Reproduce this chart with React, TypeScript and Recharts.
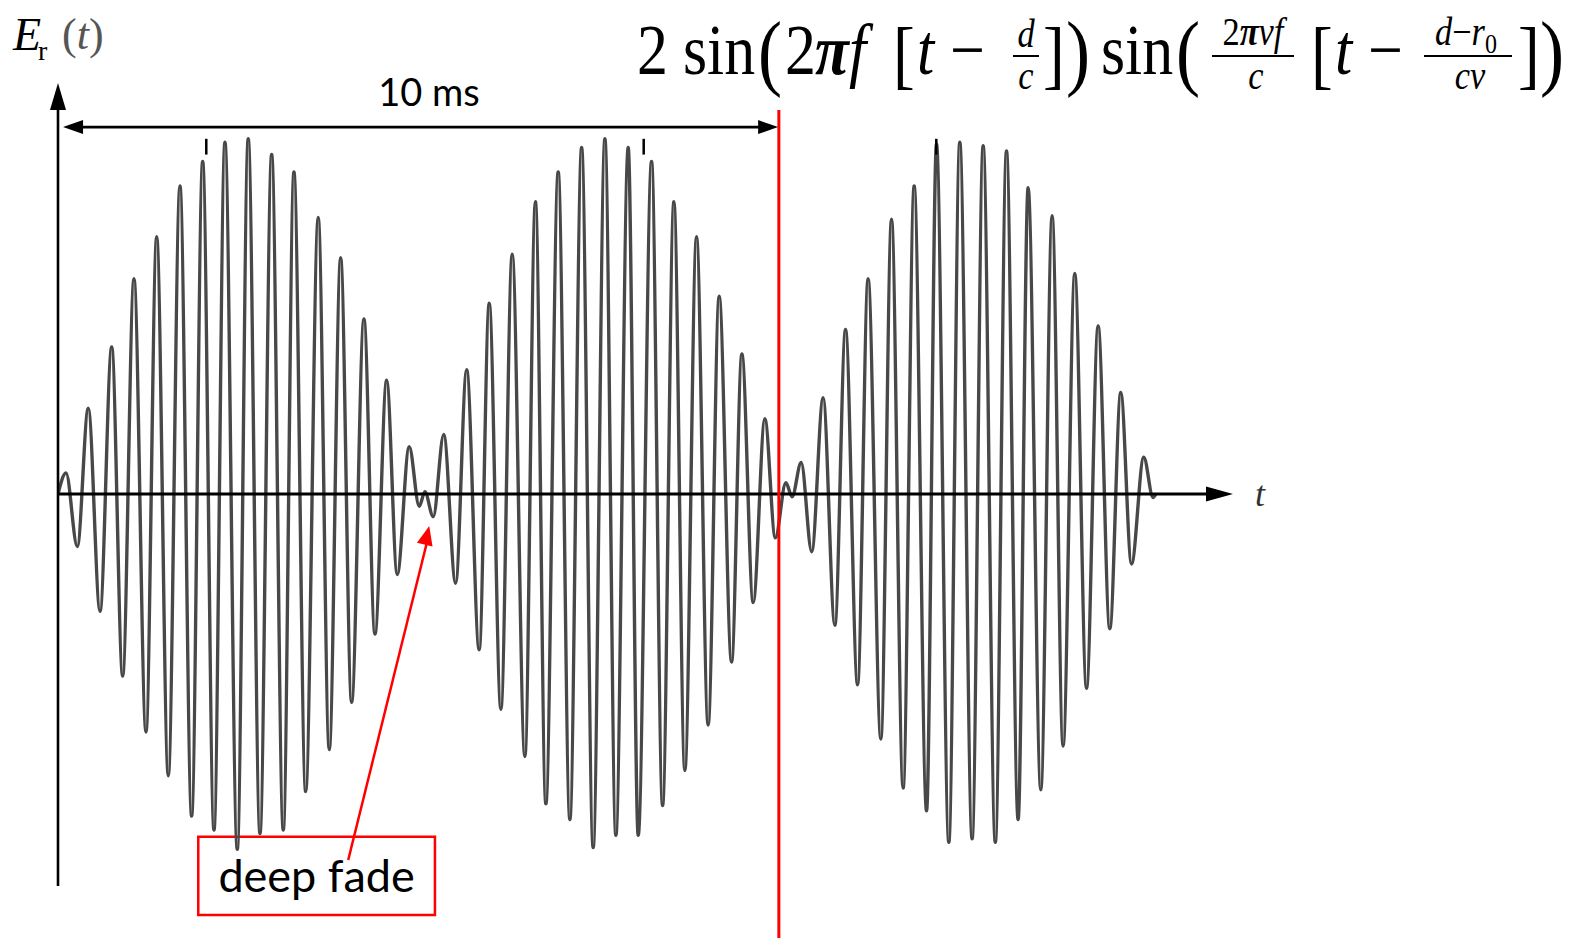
import React from 'react';
import { LineChart, Line, XAxis, YAxis, ReferenceLine, ReferenceDot, ReferenceArea } from 'recharts';

// Received field E_r(t): successive extrema of the beating carrier (time in ms, amplitude)
const waveTimes = [
  0, 0.111, 0.268, 0.42, 0.583, 0.745, 0.897, 1.054, 1.221, 1.369,
  1.53, 1.692, 1.854, 2.007, 2.164, 2.316, 2.487, 2.639, 2.802, 2.964,
  3.125, 3.273, 3.436, 3.61, 3.763, 3.921, 4.073, 4.244, 4.397, 4.559,
  4.706, 4.872, 5.011, 5.09, 5.205, 5.351, 5.516, 5.669, 5.843, 5.982,
  6.144, 6.301, 6.477, 6.623, 6.768, 6.939, 7.101, 7.264, 7.424, 7.587,
  7.739, 7.91, 8.049, 8.234, 8.387, 8.544, 8.696, 8.858, 9.019, 9.172,
  9.344, 9.487, 9.644, 9.806, 9.951, 10.097, 10.184, 10.309, 10.456, 10.614,
  10.777, 10.925, 11.092, 11.238, 11.415, 11.563, 11.724, 11.877, 12.049, 12.187,
  12.358, 12.51, 12.681, 12.834, 13.003, 13.158, 13.319, 13.458, 13.634, 13.791,
  13.943, 14.105, 14.268, 14.429, 14.591, 14.743, 14.892, 15.062, 15.191, 15.229,
];
const waveValues = [
  0, 0.12, -0.3, 0.49, -0.67, 0.84, -1.04, 1.23, -1.36, 1.47,
  -1.61, 1.76, -1.84, 1.9, -1.92, 2.01, -2.03, 2.03, -1.94, 1.94,
  -1.92, 1.84, -1.7, 1.58, -1.46, 1.35, -1.19, 1.0, -0.8, 0.65,
  -0.46, 0.27, -0.07, 0.013, -0.13, 0.34, -0.51, 0.71, -0.89, 1.09,
  -1.23, 1.37, -1.5, 1.67, -1.77, 1.84, -1.86, 1.98, -2.02, 2.03,
  -1.95, 1.98, -1.95, 1.9, -1.78, 1.67, -1.58, 1.47, -1.32, 1.13,
  -0.96, 0.8, -0.62, 0.43, -0.25, 0.065, -0.015, 0.18, -0.33, 0.55,
  -0.75, 0.94, -1.09, 1.23, -1.4, 1.57, -1.68, 1.76, -1.81, 2.0,
  -1.99, 2.01, -1.97, 1.99, -1.99, 1.96, -1.86, 1.75, -1.69, 1.59,
  -1.44, 1.26, -1.11, 0.96, -0.77, 0.58, -0.4, 0.21, -0.02, 0,
];

// Annotation positions in data units (ms, amplitude)
const T_MAX = 16.3;
const Y_TOP = 2.349;
const Y_BOTTOM = -2.537;
const AXIS_Y_END = -2.24;
const periodStart = 0.07;
const periodEnd = 9.99;
const periodLevel = 2.097;
const periodMarkTop = 2.194;
const periodLabel = '10 ms';
const envelopeMarks = [2.057, 8.125, 12.184];
const envelopeMarkRange = [1.94, 2.03];
const fadeBox = { x1: 1.946, x2: 5.229, y1: -2.406, y2: -1.958 };
const fadeArrowFrom = { t: 4.026, v: -2.091 };
const fadeArrowTo = { t: 5.15, v: -0.183 };
const fadeLabel = 'deep fade';

const data = waveTimes.map((t, i) => ({ t, v: waveValues[i] }));

const RED = '#ff0000';

// Filled triangular arrowhead whose tip sits on the reference point
const arrowHead = (dx: number, dy: number, len: number, half: number, color: string) => (props: any) => {
  const { cx, cy } = props;
  if (cx == null || cy == null) return <g />;
  const n = Math.hypot(dx, dy);
  const ux = dx / n;
  const uy = dy / n;
  const bx = cx - ux * len;
  const by = cy - uy * len;
  const px = -uy * half;
  const py = ux * half;
  return (
    <polygon
      points={`${cx},${cy} ${bx + px},${by + py} ${bx - px},${by - py}`}
      fill={color}
    />
  );
};

const serif = '"Liberation Serif", "DejaVu Serif", serif';
const SX = 0.86; // the equation set is slightly condensed

type GlyphProps = {
  x: number;
  y: number;
  size: number;
  italic?: boolean;
  bold?: boolean;
  anchor?: 'start' | 'middle' | 'end';
  children: React.ReactNode;
};

const Glyph = ({ x, y, size, italic, bold, anchor = 'start', children }: GlyphProps) => (
  <text
    transform={`translate(${x},${y}) scale(${SX},1)`}
    fontSize={size}
    fontStyle={italic ? 'italic' : 'normal'}
    fontWeight={bold ? 'bold' : 'normal'}
    textAnchor={anchor}
  >
    {children}
  </text>
);

function Formula() {
  const M = 72;
  const S = 40;
  const base = 74;
  const P = 84;
  const B = 76;
  const pb = 80;
  return (
    <g fontFamily={serif} fill="#000">
      <Glyph x={637} y={base} size={M}>2</Glyph>
      <Glyph x={683} y={base} size={M}>sin</Glyph>
      <Glyph x={758} y={pb} size={P}>(</Glyph>
      <Glyph x={785} y={base} size={M}>2</Glyph>
      <Glyph x={815} y={base} size={M} italic bold>π</Glyph>
      <Glyph x={849} y={base} size={M} italic>f</Glyph>
      <Glyph x={893} y={pb} size={B}>[</Glyph>
      <Glyph x={917} y={base} size={M} italic>t</Glyph>
      <Glyph x={950} y={base} size={M}>−</Glyph>
      <Glyph x={1026} y={47} size={S} italic anchor="middle">d</Glyph>
      <line x1={1013} x2={1039} y1={56} y2={56} stroke="#000" strokeWidth={2} />
      <Glyph x={1026} y={89} size={S} italic anchor="middle">c</Glyph>
      <Glyph x={1043} y={pb} size={B}>]</Glyph>
      <Glyph x={1066} y={pb} size={P}>)</Glyph>
      <Glyph x={1101} y={base} size={M}>sin</Glyph>
      <Glyph x={1176} y={pb} size={P}>(</Glyph>
      <Glyph x={1253} y={45} size={S} anchor="middle">
        2<tspan fontStyle="italic" fontWeight="bold">π</tspan><tspan fontStyle="italic">vf</tspan>
      </Glyph>
      <line x1={1212} x2={1294} y1={56} y2={56} stroke="#000" strokeWidth={2} />
      <Glyph x={1256} y={89} size={S} italic anchor="middle">c</Glyph>
      <Glyph x={1311} y={pb} size={B}>[</Glyph>
      <Glyph x={1335} y={base} size={M} italic>t</Glyph>
      <Glyph x={1368} y={base} size={M}>−</Glyph>
      <Glyph x={1466} y={45} size={S} anchor="middle">
        <tspan fontStyle="italic">d</tspan>−<tspan fontStyle="italic">r</tspan>
        <tspan fontSize={28} dy={8}>0</tspan>
      </Glyph>
      <line x1={1424} x2={1512} y1={56} y2={56} stroke="#000" strokeWidth={2} />
      <Glyph x={1470} y={89} size={S} italic anchor="middle">cv</Glyph>
      <Glyph x={1518} y={pb} size={B}>]</Glyph>
      <Glyph x={1540} y={pb} size={P}>)</Glyph>
    </g>
  );
}

export default function App() {
  return (
    <div style={{ position: 'absolute', left: 0, top: 0, width: 1591, height: 938, background: '#fff' }}>
      <LineChart
        width={1591}
        height={938}
        data={data}
        margin={{ top: 83, right: 358, bottom: 0, left: 58 }}
      >
        <XAxis dataKey="t" type="number" domain={[0, T_MAX]} allowDataOverflow hide />
        <YAxis type="number" domain={[Y_BOTTOM, Y_TOP]} allowDataOverflow hide />
        <Line
          type="monotoneX"
          dataKey="v"
          stroke="#484848"
          strokeWidth={3.4}
          dot={false}
          activeDot={false}
          isAnimationActive={false}
        />
        {/* time axis */}
        <ReferenceLine
          segment={[{ x: 0, y: 0 }, { x: T_MAX - 0.2, y: 0 }]}
          stroke="#000"
          strokeWidth={3}
          ifOverflow="visible"
        />
        <ReferenceDot x={T_MAX} y={0} ifOverflow="visible" shape={arrowHead(1, 0, 27, 7.5, '#000')} />
        {/* amplitude axis */}
        <ReferenceLine
          segment={[{ x: 0, y: AXIS_Y_END }, { x: 0, y: Y_TOP - 0.1 }]}
          stroke="#000"
          strokeWidth={2.6}
          ifOverflow="visible"
        />
        <ReferenceDot x={0} y={Y_TOP} ifOverflow="visible" shape={arrowHead(0, -1, 27, 8, '#000')} />
        {/* envelope peak ticks */}
        {envelopeMarks.map((m) => (
          <ReferenceLine
            key={m}
            segment={[{ x: m, y: envelopeMarkRange[0] }, { x: m, y: envelopeMarkRange[1] }]}
            stroke="#000"
            strokeWidth={2.5}
            ifOverflow="visible"
          />
        ))}
        {/* 10 ms period span */}
        <ReferenceLine
          segment={[{ x: periodStart + 0.1, y: periodLevel }, { x: periodEnd - 0.1, y: periodLevel }]}
          stroke="#000"
          strokeWidth={2.6}
          ifOverflow="visible"
        />
        <ReferenceDot x={periodStart} y={periodLevel} ifOverflow="visible" shape={arrowHead(-1, 0, 20, 7, '#000')} />
        <ReferenceDot x={periodEnd} y={periodLevel} ifOverflow="visible" shape={arrowHead(1, 0, 20, 7, '#000')} />
        <ReferenceLine
          segment={[{ x: 10, y: periodMarkTop }, { x: 10, y: Y_BOTTOM }]}
          stroke={RED}
          strokeWidth={3}
          ifOverflow="visible"
        />
        {/* deep fade callout */}
        <ReferenceArea
          x1={fadeBox.x1}
          x2={fadeBox.x2}
          y1={fadeBox.y1}
          y2={fadeBox.y2}
          fill="none"
          fillOpacity={0}
          stroke={RED}
          strokeWidth={2.5}
          ifOverflow="visible"
          label={{ value: fadeLabel, position: 'center', fontSize: 45, fontFamily: 'Lato', fill: '#000' }}
        />
        <ReferenceLine
          segment={[{ x: fadeArrowFrom.t, y: fadeArrowFrom.v }, { x: fadeArrowTo.t - 0.03, y: fadeArrowTo.v - 0.09 }]}
          stroke={RED}
          strokeWidth={2.5}
          ifOverflow="visible"
        />
        <ReferenceDot
          x={fadeArrowTo.t}
          y={fadeArrowTo.v}
          ifOverflow="visible"
          shape={arrowHead(81, -334, 19, 8, RED)}
        />
      </LineChart>
      <svg
        width={1591}
        height={938}
        style={{ position: 'absolute', left: 0, top: 0, pointerEvents: 'none' }}
      >
        <g fontFamily={serif}>
          <text x={13} y={50} fontSize={46} fontStyle="italic" fill="#000">E</text>
          <text x={38} y={60} fontSize={28} fill="#000">r</text>
          <text x={62} y={49} fontSize={44} fill="#555">
            (<tspan fontStyle="italic">t</tspan>)
          </text>
          <text x={1255} y={506} fontSize={36} fontStyle="italic" fill="#333">t</text>
        </g>
        <text x={429} y={106} fontSize={38} fontFamily="Lato" textAnchor="middle" fill="#000">
          {periodLabel}
        </text>
        <Formula />
      </svg>
    </div>
  );
}
